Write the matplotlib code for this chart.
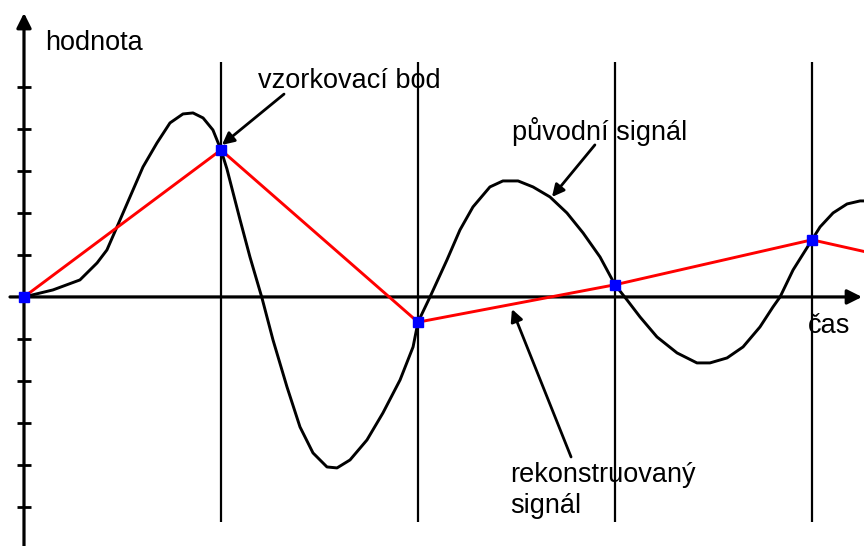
import numpy as np
import matplotlib
matplotlib.use("Agg")
import matplotlib.pyplot as plt

# original (continuous) signal
sig_t = [0.0, 0.147, 0.284, 0.371, 0.421, 0.472, 0.538, 0.604, 0.675, 0.741,
         0.807, 0.858, 0.909, 0.959, 1.0, 1.030, 1.096, 1.147, 1.208, 1.264,
         1.335, 1.401, 1.467, 1.538, 1.589, 1.655, 1.741, 1.822, 1.909, 1.975,
         2.0, 2.061, 2.147, 2.213, 2.279, 2.365, 2.431, 2.508, 2.584, 2.670,
         2.756, 2.838, 2.924, 3.0, 3.061, 3.127, 3.213, 3.315, 3.416, 3.482,
         3.569, 3.650, 3.736, 3.802, 3.838, 3.904, 4.0, 4.041, 4.107, 4.178,
         4.244, 4.264]
sig_v = [0.0, 0.167, 0.405, 0.810, 1.119, 1.667, 2.381, 3.095, 3.667, 4.143,
         4.357, 4.381, 4.262, 3.976, 3.5, 3.05, 1.85, 0.952, -0.024, -1.024,
         -2.143, -3.095, -3.714, -4.048, -4.071, -3.881, -3.405, -2.762, -1.976, -1.190,
         -0.6, 0.0, 0.881, 1.595, 2.143, 2.619, 2.762, 2.762, 2.619, 2.381,
         2.0, 1.524, 0.952, 0.29, -0.071, -0.476, -0.952, -1.333, -1.571, -1.571,
         -1.452, -1.190, -0.714, -0.238, 0.0, 0.643, 1.36, 1.667, 2.0, 2.214,
         2.286, 2.286]

# samples (reconstructed signal)
samp_t = [0, 1, 2, 3, 4, 5]
samp_v = [0.0, 3.5, -0.6, 0.29, 1.36, 0.31]

tick_v = [-5, -4, -3, -2, -1, 1, 2, 3, 4, 5]

fig = plt.figure(figsize=(8.64, 5.46), dpi=100)
ax = fig.add_axes([0, 0, 1, 1])
ax.set_xlim(-0.1218, 4.264)
ax.set_ylim(-5.93, 7.07)
ax.axis("off")

txt = dict(family="Liberation Sans", fontsize=19.5, va="baseline", zorder=1)

# vertical sampling lines
ax.vlines(samp_t[1:5], -5.36, 5.6, color="black", lw=1.6, zorder=2)

# axes with arrows
arr = dict(arrowstyle="-|>", color="black", lw=2.3, mutation_scale=22, shrinkA=0, shrinkB=0)
ax.annotate("", xy=(0, 6.76), xytext=(0, -5.95), arrowprops=arr, zorder=3)
ax.annotate("", xy=(4.254, 0), xytext=(-0.071, 0), arrowprops=arr, zorder=3)
ax.hlines(tick_v, -0.036, 0.036, color="black", lw=2, zorder=3)

# curves
ax.plot(sig_t, sig_v, color="black", lw=2.1, zorder=4, solid_joinstyle="round")
ax.plot(samp_t, samp_v, color="red", lw=2.1, zorder=5)
ax.plot(samp_t, samp_v, ls="none", marker="s", ms=6.5, color="blue", zorder=6)

# labels
ax.text(0.107, 5.88, "hodnota", **txt)
ax.text(3.98, -0.86, "čas", **txt)
ax.text(1.188, 4.98, "vzorkovací bod", **txt)
ax.text(2.477, 3.74, "původní signál", **txt)
ax.text(2.467, -4.40, "rekonstruovaný", **txt)
ax.text(2.467, -5.14, "signál", **txt)

pt = dict(arrowstyle="-|>", color="black", lw=2.0, mutation_scale=18, shrinkA=0, shrinkB=0)
ax.annotate("", xy=(1.005, 3.62), xytext=(1.32, 4.83), arrowprops=pt, zorder=7)
ax.annotate("", xy=(2.680, 2.38), xytext=(2.898, 3.62), arrowprops=pt, zorder=7)
ax.annotate("", xy=(2.477, -0.29), xytext=(2.777, -3.81), arrowprops=pt, zorder=7)

fig.savefig("out.png", dpi=100)
